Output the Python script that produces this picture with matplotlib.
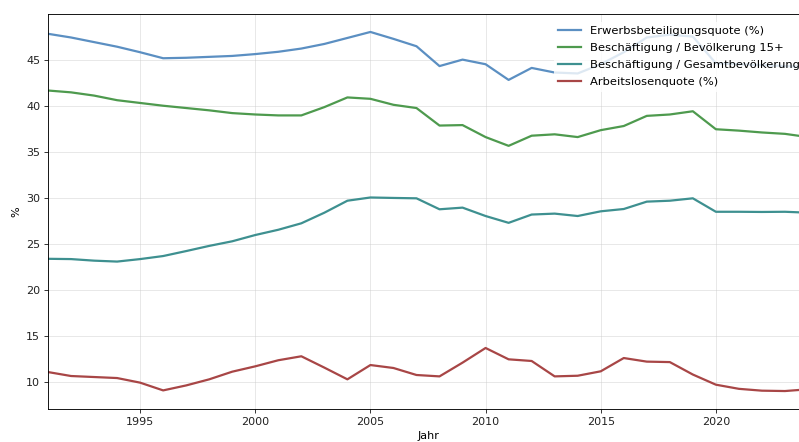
import matplotlib
matplotlib.use("Agg")
import matplotlib.pyplot as plt

years = list(range(1991, 2025))

erwerbsquote = [47.8, 47.4, 46.9, 46.4, 45.8, 45.15, 45.2, 45.3, 45.4, 45.6, 45.85, 46.2,
                46.7, 47.35, 48.0, 47.25, 46.45, 44.3, 45.0, 44.5, 42.8, 44.1, 43.6, 43.5,
                44.5, 45.8, 47.4, 47.7, 47.5, 44.6, 44.5, 44.4, 44.3, 44.2]

beschaeftigung_15 = [41.65, 41.45, 41.1, 40.6, 40.3, 40.0, 39.75, 39.5, 39.2, 39.05, 38.95, 38.95,
                     39.85, 40.9, 40.75, 40.1, 39.75, 37.85, 37.9, 36.6, 35.65, 36.75, 36.9, 36.6,
                     37.35, 37.8, 38.9, 39.05, 39.4, 37.45, 37.3, 37.1, 36.95, 36.6]

beschaeftigung_ges = [23.4, 23.37, 23.2, 23.1, 23.37, 23.7, 24.24, 24.8, 25.3, 25.98, 26.55, 27.25,
                      28.4, 29.7, 30.05, 30.0, 29.96, 28.77, 28.95, 28.04, 27.3, 28.2, 28.3, 28.04,
                      28.55, 28.8, 29.6, 29.7, 29.96, 28.5, 28.5, 28.48, 28.5, 28.4]

arbeitslosenquote = [11.12, 10.69, 10.58, 10.47, 9.97, 9.13, 9.67, 10.33, 11.16, 11.74, 12.4, 12.83,
                     11.6, 10.33, 11.88, 11.56, 10.8, 10.65, 12.14, 13.73, 12.5, 12.32, 10.65, 10.72,
                     11.2, 12.64, 12.25, 12.2, 10.85, 9.75, 9.3, 9.1, 9.06, 9.25]

series = [
    ("Erwerbsbeteiligungsquote (%)", erwerbsquote, "#5b8fc2"),
    ("Beschäftigung / Bevölkerung 15+", beschaeftigung_15, "#4e9a4e"),
    ("Beschäftigung / Gesamtbevölkerung", beschaeftigung_ges, "#3e9090"),
    ("Arbeitslosenquote (%)", arbeitslosenquote, "#a84646"),
]

fig = plt.figure(figsize=(799 / 80, 442 / 80), dpi=80)
ax = fig.add_axes([48 / 799, 33 / 442, 760 / 799, 395 / 442])

for label, vals, color in series:
    ax.plot(years, vals, color=color, lw=2, label=label)

ax.set_xlim(1991, 2024)
ax.grid(True, color="#cccccc", alpha=0.5, lw=0.8)
ax.set_xlabel("Jahr")
ax.set_ylabel("%")
ax.tick_params(colors="#222222")
leg = ax.legend(loc="upper right", bbox_to_anchor=(1.002, 0.992),
                frameon=True, framealpha=0.8, edgecolor="none",
                fontsize=10.3, labelspacing=0.6, borderaxespad=0.4)

fig.savefig("out.png", dpi=80)
